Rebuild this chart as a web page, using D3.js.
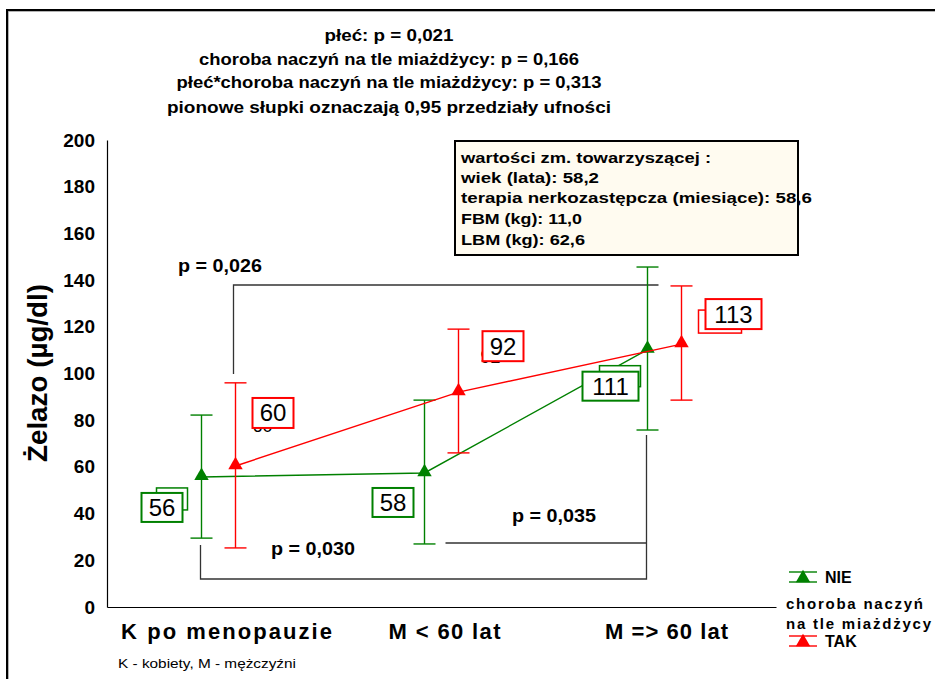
<!DOCTYPE html>
<html><head><meta charset="utf-8">
<script src="https://cdn.jsdelivr.net/npm/d3@7"></script>
<style>body{margin:0;background:#fff}svg{display:block}text{font-family:"Liberation Sans",Arial,sans-serif}</style>
</head><body><svg id="c" width="935" height="679"></svg>
<script>
// ---- data ----
const categories = ["K po menopauzie", "M < 60 lat", "M => 60 lat"];
const nieMean = [55.7, 57.4, 110.2];
const nieLow  = [29.5, 27.0, 75.8];
const nieHigh = [82.2, 88.6, 145.6];
const takMean = [60.4, 92.0, 112.6];
const takLow  = [25.3, 66.0, 88.6];
const takHigh = [96.0, 119.0, 137.5];
const nieLabels = ["56", "58", "111"];
const takLabels = ["60", "92", "113"];
const yTicks = [0, 20, 40, 60, 80, 100, 120, 140, 160, 180, 200];
const titleLines = ["płeć: p = 0,021", "choroba naczyń na tle miażdżycy: p = 0,166",
  "płeć*choroba naczyń na tle miażdżycy: p = 0,313", "pionowe słupki oznaczają 0,95 przedziały ufności"];
const covLines = ["wartości zm. towarzyszącej :", "wiek (lata): 58,2",
  "terapia nerkozastępcza (miesiące): 58,6", "FBM (kg): 11,0", "LBM (kg): 62,6"];

const GREEN = "#008000", RED = "#ff0000";
const svg = d3.select("#c");

// frame
svg.append("path").attr("d","M8,690V11H950").attr("fill","none").attr("stroke","#999").attr("stroke-width",1.5);
svg.append("path").attr("d","M7,690V10H950").attr("fill","none").attr("stroke","#000").attr("stroke-width",2);

const x = d3.scaleBand().domain(categories).range([107, 776]);
const y = d3.scaleLinear().domain([0, 200]).range([607, 140]);
const cx = c => x(c) + x.bandwidth() / 2;
const dodge = 17;

// axes
const yAxis = svg.append("g").attr("transform","translate(107,0)")
  .call(d3.axisLeft(y).tickValues(yTicks).tickSize(0).tickPadding(12));
yAxis.select(".domain").attr("stroke","#000").attr("stroke-width",1.2);
yAxis.selectAll("text").attr("font-size",19).attr("font-weight","bold").attr("fill","#000")
  .attr("font-family","Liberation Sans, Arial");
const xAxis = svg.append("g").attr("transform","translate(0,607)")
  .call(d3.axisBottom(x).tickSize(0).tickPadding(16));
xAxis.select(".domain").attr("stroke","#000").attr("stroke-width",1.2);
const xLabW = [211, 112, 123], xLabDx = [8, 3, 2];
xAxis.selectAll("text").attr("font-size",22).attr("font-weight","bold").attr("fill","#000")
  .attr("font-family","Liberation Sans, Arial").attr("dx",(d,i)=>xLabDx[i])
  .attr("textLength",(d,i)=>xLabW[i]).attr("lengthAdjust","spacing");

svg.append("text").attr("transform","translate(47,373) rotate(-90)").attr("text-anchor","middle")
  .attr("font-size",27).attr("font-weight","bold").attr("textLength",178)
  .attr("lengthAdjust","spacingAndGlyphs").text("Żelazo (µg/dl)");

// title
const titleY = [41, 65, 88, 113];
const titleW = [129, 380, 425, 444];
titleLines.forEach((t,i)=>{
  svg.append("text").attr("x",389).attr("y",titleY[i]).attr("text-anchor","middle")
    .attr("font-size",16).attr("font-weight","bold").attr("textLength",titleW[i])
    .attr("lengthAdjust","spacingAndGlyphs").text(t);
});

// covariate box
svg.append("rect").attr("x",455).attr("y",141).attr("width",343).attr("height",114)
  .attr("fill","#fffbf0").attr("stroke","#000").attr("stroke-width",2);
const covY = [163, 183, 203, 224, 245];
const covW = [250, 138, 351, 121, 124];
covLines.forEach((t,i)=>{
  svg.append("text").attr("x",461).attr("y",covY[i]).attr("font-size",15).attr("font-weight","bold")
    .attr("textLength",covW[i]).attr("lengthAdjust","spacingAndGlyphs").text(t);
});

// brackets
const bk = svg.append("g").attr("stroke","#333").attr("stroke-width",1.3).attr("fill","none");
const xN = i => cx(categories[i]) - dodge, xT = i => cx(categories[i]) + dodge;
bk.append("path").attr("d",`M${xT(0)-2},374V${285}H${xN(2)+11}`);
bk.append("path").attr("d",`M${xN(0)-1},545V579H${xN(2)-1}V435`);
bk.append("path").attr("d",`M${xN(1)+21},543H${xN(2)-1}`);
const pTxt = [["p = 0,026",178,272],["p = 0,030",271,555],["p = 0,035",512,522]];
pTxt.forEach(d=>svg.append("text").attr("x",d[1]).attr("y",d[2]).attr("font-size",18)
  .attr("font-weight","bold").attr("textLength",84).attr("lengthAdjust","spacingAndGlyphs").text(d[0]));

// series
const series = [
  {mean:nieMean, lo:nieLow, hi:nieHigh, lab:nieLabels, col:GREEN, off:-dodge},
  {mean:takMean, lo:takLow, hi:takHigh, lab:takLabels, col:RED, off:dodge}
];
const tri = d3.symbol().type(d3.symbolTriangle).size(90);
series.forEach(s=>{
  const px = i => cx(categories[i]) + s.off;
  svg.append("path").datum(s.mean).attr("fill","none").attr("stroke",s.col).attr("stroke-width",1.4)
    .attr("d", d3.line().x((d,i)=>px(i)).y(d=>y(d)));
  const g = svg.append("g").attr("stroke",s.col).attr("stroke-width",1.4);
  s.mean.forEach((m,i)=>{
    g.append("line").attr("x1",px(i)).attr("x2",px(i)).attr("y1",y(s.lo[i])).attr("y2",y(s.hi[i]));
    [s.lo[i], s.hi[i]].forEach(v=>g.append("line").attr("x1",px(i)-11).attr("x2",px(i)+11)
      .attr("y1",y(v)).attr("y2",y(v)));
  });
  s.mean.forEach((m,i)=>{
    svg.append("path").attr("d",tri).attr("fill",s.col)
      .attr("transform",`translate(${px(i)},${y(m)-1})`);
  });
});

// value labels: offsets relative to point (front box, optional back box, optional hidden text)
const labelLayout = [
  [ {f:[-60,16,41,29], b:[-45,11,31,22]}, {f:[-52,15,41,29]}, {f:[-65,22,56,29], b:[-48,16,41,21]} ],
  [ {f:[17,-68,41,30], h:[17,-34]}, {f:[24,-61,41,30], h:[22,-29]}, {f:[24,-45,56,30], b:[17,-34,43,23]} ]
];
series.forEach((s,si)=>{
  s.mean.forEach((m,i)=>{
    const px = cx(categories[i]) + s.off, py = y(m);
    const L = labelLayout[si][i];
    if (L.h) svg.append("text").attr("x",px+L.h[0]).attr("y",py+L.h[1]).attr("font-size",18)
      .attr("fill","#000").text(s.lab[i]);
    if (L.b) {
      svg.append("rect").attr("x",px+L.b[0]).attr("y",py+L.b[1]).attr("width",L.b[2]).attr("height",L.b[3])
        .attr("fill","#fff").attr("stroke",s.col).attr("stroke-width",1.5);
    }
    svg.append("rect").attr("x",px+L.f[0]).attr("y",py+L.f[1]).attr("width",L.f[2]).attr("height",L.f[3])
      .attr("fill","#fff").attr("stroke",s.col).attr("stroke-width",2);
    svg.append("text").attr("x",px+L.f[0]+L.f[2]/2).attr("y",py+L.f[1]+L.f[3]/2+8.5)
      .attr("text-anchor","middle").attr("font-size",24).attr("fill","#000").text(s.lab[i]);
  });
});

// legend
const lg = [{t:"NIE", col:GREEN, y:577}, {t:"TAK", col:RED, y:641}];
lg.forEach(d=>{
  const g = svg.append("g").attr("stroke",d.col).attr("stroke-width",1.4);
  g.append("line").attr("x1",789).attr("x2",817).attr("y1",d.y-5).attr("y2",d.y-5);
  g.append("line").attr("x1",789).attr("x2",817).attr("y1",d.y+5).attr("y2",d.y+5);
  g.append("line").attr("x1",803).attr("x2",803).attr("y1",d.y-5).attr("y2",d.y+5);
  svg.append("path").attr("d",tri).attr("fill",d.col).attr("transform",`translate(803,${d.y+1})`);
  svg.append("text").attr("x",825).attr("y",d.y+6).attr("font-size",16).attr("font-weight","bold").text(d.t);
});
svg.append("text").attr("x",786).attr("y",609).attr("font-size",15).attr("font-weight","bold")
  .attr("textLength",137).attr("lengthAdjust","spacing").text("choroba naczyń");
svg.append("text").attr("x",786).attr("y",629).attr("font-size",15).attr("font-weight","bold")
  .attr("textLength",145).attr("lengthAdjust","spacing").text("na tle miażdżycy");

svg.append("text").attr("x",118).attr("y",668).attr("font-size",13).attr("textLength",178)
  .attr("lengthAdjust","spacingAndGlyphs").text("K - kobiety, M - mężczyźni");
</script></body></html>
